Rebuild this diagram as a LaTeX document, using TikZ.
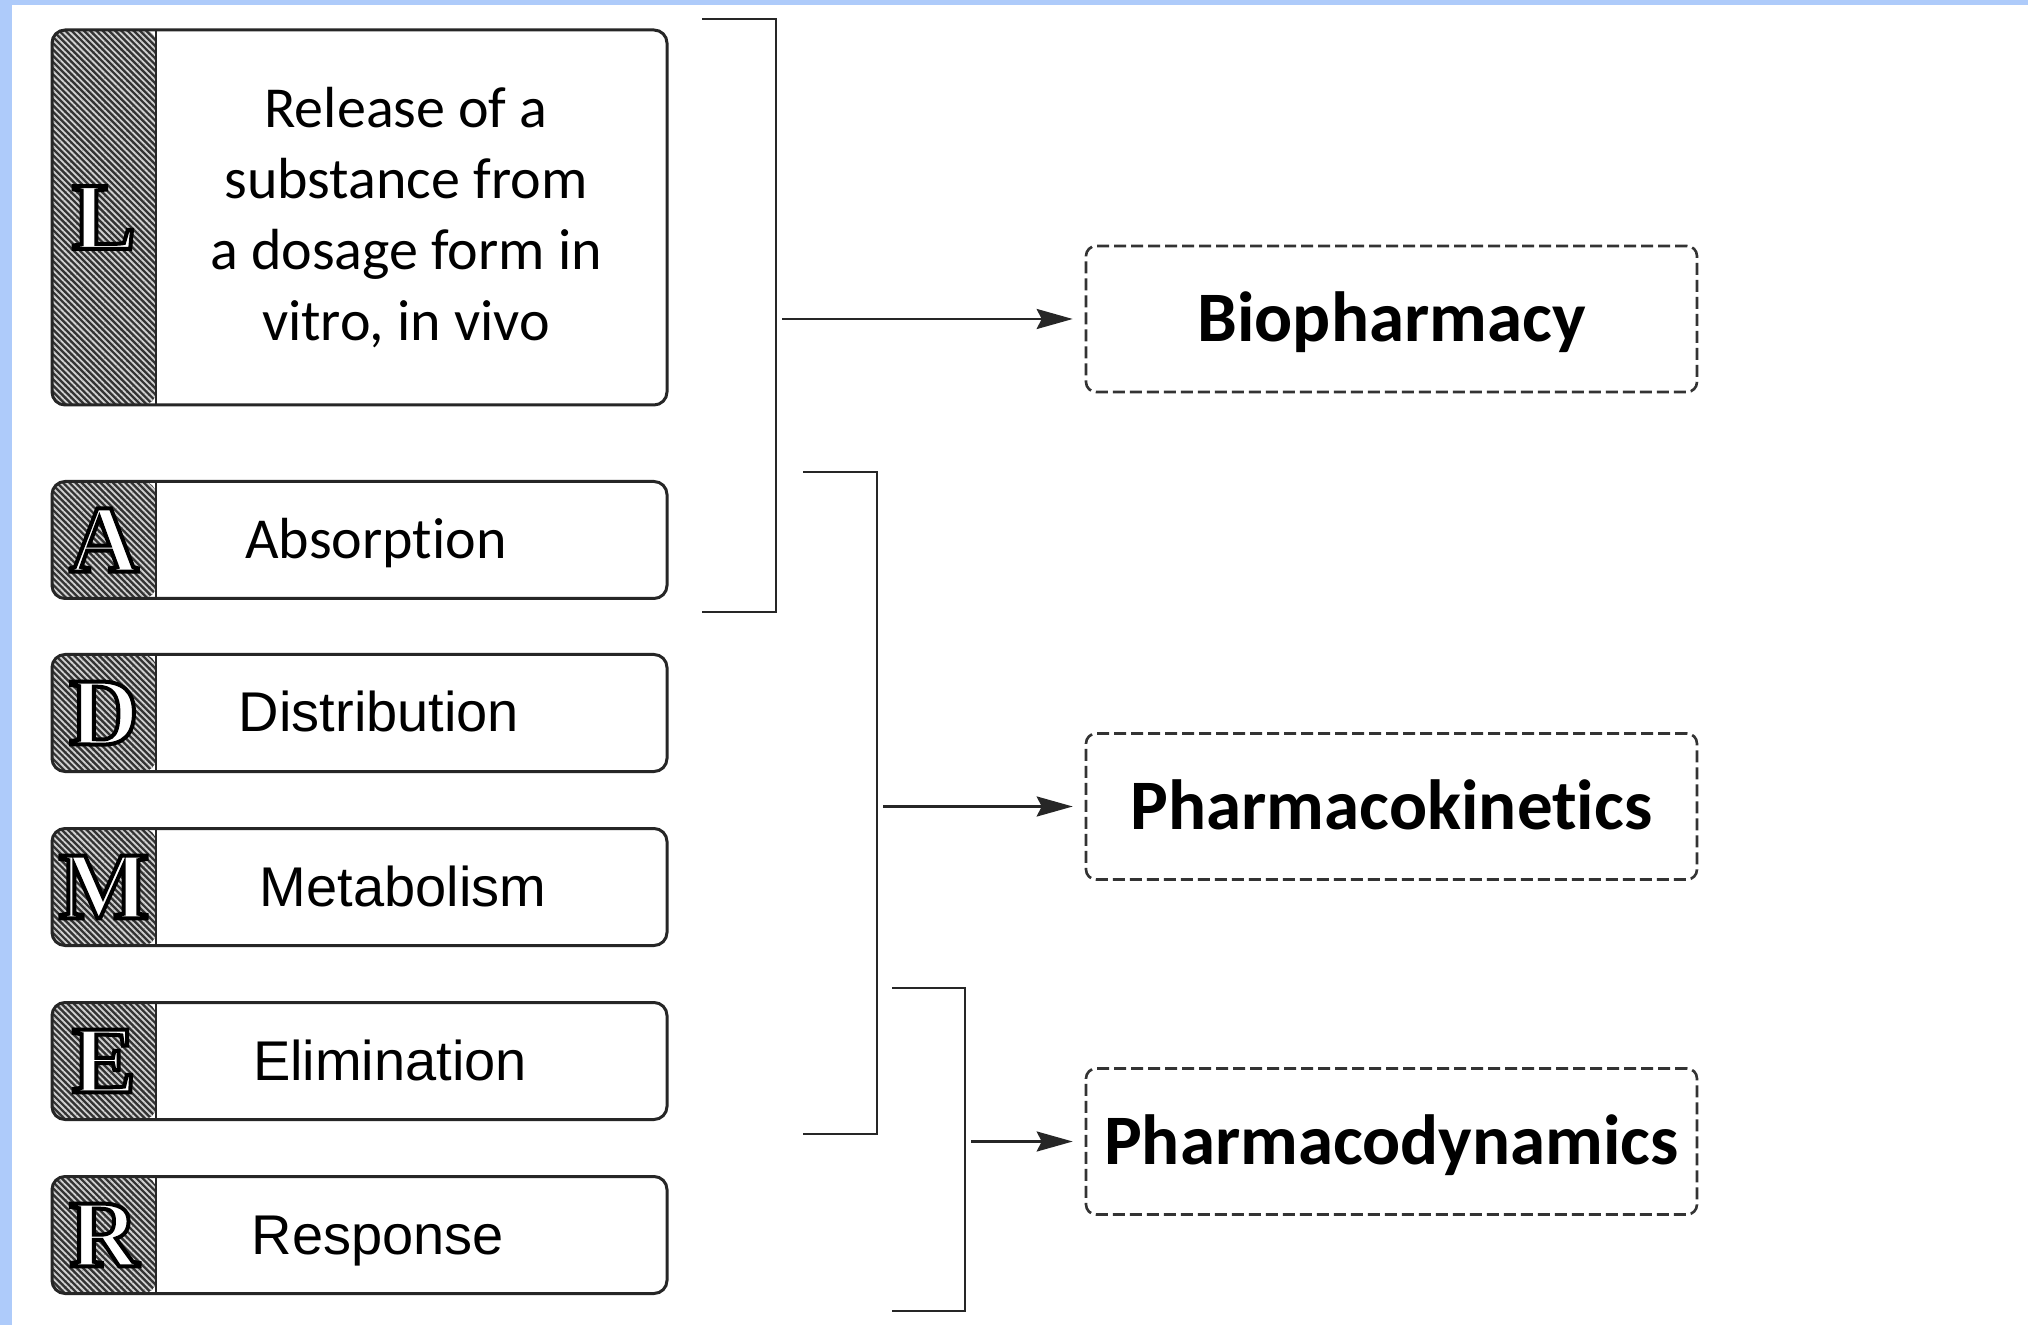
\documentclass[tikz,border=0pt]{standalone}
\usepackage{fontspec}
\newfontfamily\calibri[Ligatures=NoCommon]{Carlito}
\newfontfamily\arial{Liberation Sans}
\newfontfamily\serifltr{Liberation Serif}
\usetikzlibrary{arrows.meta, patterns.meta}
\definecolor{frameblue}{RGB}{174,203,250}
\newcommand{\calibritext}{\calibri\fontsize{29pt}{35.5pt}\selectfont}
\newcommand{\arialtext}{\arial\fontsize{28pt}{34pt}\selectfont}
% white letter with a black outline (text render mode 2)
\newcommand{\outlined}[1]{\special{pdf:literal direct 0 G 2 w 2 Tr}#1\special{pdf:literal direct 0 Tr}}

\begin{document}
\begin{tikzpicture}[
    x=0.5pt, y=-0.5pt,
    hatch/.style={preaction={fill=black!80}, pattern={Lines[angle=-45, distance=2.2pt, line width=0.9pt]}, pattern color=black!18},
    stage/.style={draw=black!85, line width=1.5pt, rounded corners=6.5pt, minimum width=307.5pt, minimum height=58.5pt, inner sep=0pt,
        path picture={
            \fill[hatch] (path picture bounding box.north west) rectangle ([xshift=52pt]path picture bounding box.south west);
            \draw[line width=0.9pt, black!85] ([xshift=52pt]path picture bounding box.north west) -- ([xshift=52pt]path picture bounding box.south west);
        }},
    ltr/.style={text=white, font=\serifltr\bfseries\fontsize{48pt}{48pt}\selectfont, inner sep=0pt, text depth=0pt},
    lbl/.style={inner sep=0pt, text height=19pt, text depth=0pt},
    phase/.style={draw=black!80, line width=1.3pt, dash pattern=on 6pt off 2.5pt, rounded corners=5pt, minimum width=305.5pt, minimum height=73pt,
        font=\calibri\bfseries\fontsize{35.5pt}{40pt}\selectfont, text height=23pt, text depth=0pt},
    brk/.style={line width=1.4pt, black!85},
    arr/.style={-{Stealth[length=18pt, width=10pt, inset=2.5pt]}, line width=1.3pt, black!85, shorten >=6pt, shorten <=3pt}
]
\useasboundingbox (0,0) rectangle (2028,1325);
\fill[white] (0,0) rectangle (2028,1325);
\fill[frameblue] (0,0) rectangle (2028,5);
\fill[frameblue] (0,0) rectangle (12,1325);

% LADMER stages
\node[stage, minimum height=187.5pt] (L) at (359.5,217.5) {};
\node[ltr] (L-ltr) at (104,217.5) {\outlined{L}};
\node[align=center, font=\calibritext] (L-txt) at (406,217.5) {Release of a\\substance from\\a dosage form in\\vitro, in vivo};

\foreach \n/\y/\tx/\fnt/\txt in {A/540/376/\calibritext/Absorption, D/713/379/\arialtext/Distribution,
    M/887/403/\arialtext/Metabolism, E/1061/390/\arialtext/Elimination, R/1235/378/\arialtext/Response} {
    \node[stage] (\n) at (359.5,\y) {};
    \node[ltr] (\n-ltr) at (104,\y) {\outlined{\n}};
    \node[lbl, font=\fnt] (\n-txt) at (\tx,\y) {\txt};
}

% disciplines
\node[phase] (bio) at (1391.5,319)    {Biopharmacy};
\node[phase] (pk)  at (1391.5,806.5)  {Pharmacokinetics};
\node[phase] (pd)  at (1391.5,1141.5) {Pharmacodynamics};

% brackets
\coordinate (b1 top) at (702,19);  \coordinate (b1 side) at (776,19);  \coordinate (b1 bot) at (702,612);
\coordinate (b2 top) at (803,472); \coordinate (b2 side) at (877,472); \coordinate (b2 bot) at (803,1134);
\coordinate (b3 top) at (892,988); \coordinate (b3 side) at (965,988); \coordinate (b3 bot) at (892,1311);

\draw[brk] (b1 top) -- (b1 side) |- (b1 bot);
\draw[brk] (b2 top) -- (b2 side) |- (b2 bot);
\draw[brk] (b3 top) -- (b3 side) |- (b3 bot);

\draw[arr] (b1 side |- bio) -- (bio);
\draw[arr] (b2 side |- pk)  -- (pk);
\draw[arr] (b3 side |- pd)  -- (pd);
\end{tikzpicture}
\end{document}
